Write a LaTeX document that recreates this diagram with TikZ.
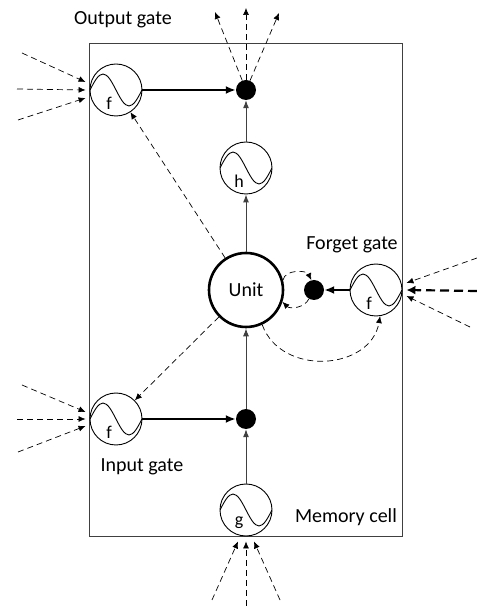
\documentclass[tikz,border=0pt]{standalone}
\usepackage{fontspec}
\setmainfont{Carlito}
\usetikzlibrary{arrows.meta,calc}

\begin{document}
\begin{tikzpicture}[
    x=1pt, y=1pt,
    every node/.style={font=\fontsize{20}{22}\selectfont},
    sig/.style={circle, draw, line width=0.9pt, fill=white, minimum size=52pt, inner sep=0pt,
        path picture={\draw[line width=0.9pt] (path picture bounding box.west)
            sin ++(13pt,16pt) cos ++(13pt,-16pt) sin ++(13pt,-16pt) cos ++(13pt,16pt);},
        label={[font=\fontsize{18}{20}\selectfont, xshift=-7pt, yshift=-13pt]center:#1}},
    dot/.style={circle, fill=black, minimum size=20pt, inner sep=0pt},
    unitc/.style={circle, draw, line width=2.6pt, minimum size=74pt, inner sep=0pt},
    arr/.style={-{Latex[length=8pt,width=6pt]}, line width=1pt, black!75},
    thickarr/.style={-{Latex[length=10pt,width=8pt]}, line width=2.4pt},
    dashin/.style={-{Latex[length=7pt,width=6pt]}, line width=0.7pt, dash pattern=on 6pt off 4pt},
    thickdash/.style={-{Latex[length=9pt,width=9pt]}, line width=2.2pt, dash pattern=on 9pt off 5pt}
]
    \useasboundingbox (0,0) rectangle (477,606);

    % Memory cell
    \draw[line width=0.8pt, black!75] (89,70) rectangle (402,563);

    % Units and gates
    \node[sig=f] (of) at (116,516) {};
    \node[dot] (odot) at (246,516) {};
    \node[sig=h] (h) at (246,438) {};
    \node[unitc] (unit) at (246,316) {Unit};
    \node[dot] (fdot) at (314,316) {};
    \node[sig=f] (ff) at (376,316) {};
    \node[sig=f] (if) at (116,187) {};
    \node[dot] (idot) at (246,187) {};
    \node[sig=g] (g) at (246,96) {};

    % Labels
    \node (lout) at (123,586) {Output gate};
    \node (lforget) at (352,361) {Forget gate};
    \node (lin) at (142,139) {Input gate};
    \node (lmem) at (346,89) {Memory cell};

    % Solid connections
    \draw[thickarr] (of) -- (odot);
    \draw[thickarr] (if) -- (idot);
    \draw[thickarr] (ff) -- (fdot);
    \draw[arr] (g) -- (idot);
    \draw[arr] (idot) -- (unit);
    \draw[arr] (unit) -- (h);
    \draw[arr] (h) -- (odot);

    % Recurrent connections
    \draw[dashin] (unit) -- (of);
    \draw[dashin] (unit) -- (if);
    \draw[dashin] (unit.15) to[out=80,in=115] (fdot.105);
    \draw[dashin] (fdot.240) to[out=-115,in=-45] (unit.-18);
    \draw[dashin] (unit.-65) to[out=-70,in=-100,looseness=1.2] (ff.-81);

    % Incoming connections
    \foreach \x/\y/\d [count=\i] in {22/553/8, 17/517/0, 18/486/-8} {
        \coordinate (oin\i) at (\x,\y);
        \draw[dashin] (oin\i) -- ([shift={(-4,\d)}]of.west);
    }
    \foreach \x/\y/\d [count=\i] in {22/221/7, 17/187/0, 18/154/-7} {
        \coordinate (iin\i) at (\x,\y);
        \draw[dashin] (iin\i) -- ([shift={(-4,\d)}]if.west);
    }
    \foreach \x/\y/\d [count=\i] in {212/6/-8, 246/0/0, 280/6/8} {
        \coordinate (gin\i) at (\x,\y);
        \draw[dashin] (gin\i) -- ([shift={(\d,-5)}]g.south);
    }
    \coordinate (fin1) at (477,348);
    \coordinate (fin2) at (477,315);
    \coordinate (fin3) at (470,279);
    \draw[dashin] (fin1) -- ([shift={(4,7)}]ff.east);
    \draw[thickdash] (fin2) -- ([shift={(4,0)}]ff.east);
    \draw[dashin] (fin3) -- ([shift={(4,-6)}]ff.east);

    % Outgoing connections
    \foreach \x/\y [count=\i] in {215/594, 246/598, 279/593} {
        \coordinate (out\i) at (\x,\y);
        \draw[dashin] (odot) -- (out\i);
    }
\end{tikzpicture}
\end{document}
